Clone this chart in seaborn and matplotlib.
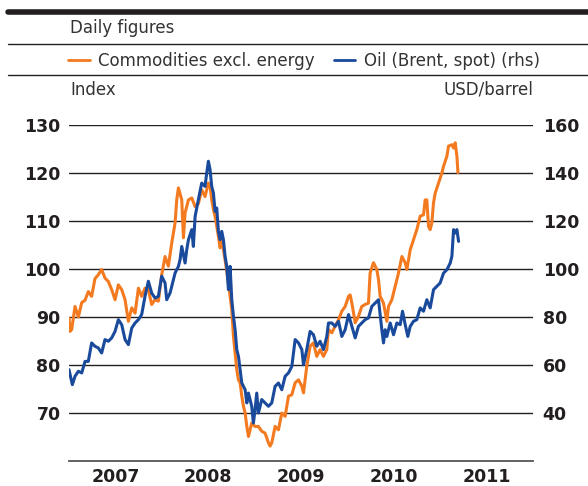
import pandas as pd
import matplotlib.pyplot as plt
import seaborn as sns
from matplotlib.lines import Line2D

# time as decimal years
comm_t = [2007.000, 2007.011, 2007.029, 2007.065, 2007.101, 2007.137, 2007.173, 2007.208,
          2007.244, 2007.280, 2007.316, 2007.352, 2007.388, 2007.424, 2007.460, 2007.496,
          2007.532, 2007.568, 2007.604, 2007.640, 2007.676, 2007.712, 2007.748, 2007.783,
          2007.819, 2007.855, 2007.891, 2007.927, 2007.963, 2007.999, 2008.035, 2008.071,
          2008.107, 2008.143, 2008.161, 2008.179, 2008.215, 2008.233, 2008.251, 2008.287,
          2008.323, 2008.359, 2008.394, 2008.430, 2008.466, 2008.502, 2008.520, 2008.538,
          2008.556, 2008.574, 2008.592, 2008.610, 2008.628, 2008.646, 2008.682, 2008.718,
          2008.754, 2008.772, 2008.790, 2008.808, 2008.826, 2008.844, 2008.862, 2008.880,
          2008.898, 2008.916, 2008.934, 2008.951, 2008.969, 2009.005, 2009.041, 2009.077,
          2009.113, 2009.149, 2009.167, 2009.185, 2009.221, 2009.257, 2009.293, 2009.329,
          2009.365, 2009.401, 2009.437, 2009.473, 2009.509, 2009.527, 2009.562, 2009.598,
          2009.634, 2009.670, 2009.706, 2009.742, 2009.778, 2009.796, 2009.832, 2009.868,
          2009.904, 2009.940, 2009.976, 2010.012, 2010.030, 2010.048, 2010.084, 2010.119,
          2010.155, 2010.191, 2010.227, 2010.245, 2010.281, 2010.317, 2010.335, 2010.353,
          2010.389, 2010.425, 2010.443, 2010.479, 2010.515, 2010.551, 2010.587, 2010.623,
          2010.641, 2010.677, 2010.712, 2010.748, 2010.784, 2010.820, 2010.838, 2010.856,
          2010.874, 2010.892, 2010.910, 2010.928, 2010.946, 2010.982, 2011.018, 2011.036,
          2011.072, 2011.090, 2011.126, 2011.144, 2011.162, 2011.180, 2011.191]
comm_val = [89.8, 87.0, 87.4, 92.2, 90.0, 93.0, 93.5, 95.3,
            94.3, 98.0, 98.8, 99.9, 98.1, 97.4, 95.7, 93.6,
            96.7, 95.7, 93.6, 89.1, 91.9, 90.8, 96.0, 94.3,
            96.0, 95.7, 92.6, 93.6, 93.3, 98.8, 102.6, 100.6,
            105.4, 109.6, 114.4, 116.9, 114.4, 106.5, 111.7, 114.4,
            114.8, 113.0, 113.6, 116.5, 115.1, 117.9, 117.2, 114.4,
            112.4, 111.0, 108.9, 106.8, 104.4, 106.1, 101.9, 97.1,
            91.5, 86.0, 82.5, 79.0, 76.9, 76.3, 73.5, 71.4,
            70.0, 67.2, 65.1, 66.5, 67.9, 67.2, 67.2, 66.2,
            65.8, 63.8, 63.1, 63.8, 67.2, 66.5, 70.0, 69.3,
            73.5, 73.8, 76.3, 76.9, 75.6, 74.2, 79.7, 83.9,
            84.6, 81.8, 83.2, 81.8, 83.2, 87.4, 86.7, 88.1,
            89.4, 91.2, 92.2, 94.3, 94.6, 92.9, 88.8, 90.1,
            92.2, 92.6, 92.9, 99.2, 101.3, 99.9, 97.8, 94.3,
            92.9, 89.1, 92.2, 93.6, 96.4, 99.2, 102.6, 101.3,
            99.9, 104.0, 106.1, 108.2, 111.0, 111.3, 114.4, 114.4,
            108.9, 108.2, 109.6, 113.8, 115.8, 117.9, 120.0, 121.4,
            123.5, 125.6, 125.9, 125.2, 126.3, 123.5, 120.1]

oil_t = [2007.000, 2007.036, 2007.065, 2007.101, 2007.137, 2007.173, 2007.208, 2007.244,
         2007.280, 2007.316, 2007.352, 2007.388, 2007.424, 2007.460, 2007.496, 2007.532,
         2007.568, 2007.604, 2007.640, 2007.676, 2007.712, 2007.748, 2007.783, 2007.819,
         2007.855, 2007.891, 2007.927, 2007.963, 2007.999, 2008.035, 2008.053, 2008.089,
         2008.107, 2008.143, 2008.179, 2008.197, 2008.215, 2008.251, 2008.269, 2008.287,
         2008.323, 2008.340, 2008.359, 2008.394, 2008.430, 2008.466, 2008.484, 2008.502,
         2008.520, 2008.538, 2008.556, 2008.574, 2008.592, 2008.610, 2008.628, 2008.646,
         2008.664, 2008.682, 2008.700, 2008.718, 2008.736, 2008.754, 2008.772, 2008.790,
         2008.808, 2008.826, 2008.844, 2008.862, 2008.880, 2008.898, 2008.916, 2008.934,
         2008.969, 2008.987, 2009.005, 2009.023, 2009.041, 2009.077, 2009.113, 2009.149,
         2009.185, 2009.221, 2009.257, 2009.293, 2009.329, 2009.365, 2009.401, 2009.437,
         2009.473, 2009.509, 2009.527, 2009.562, 2009.598, 2009.634, 2009.670, 2009.706,
         2009.742, 2009.778, 2009.796, 2009.832, 2009.868, 2009.904, 2009.940, 2009.976,
         2010.012, 2010.048, 2010.084, 2010.119, 2010.155, 2010.191, 2010.227, 2010.263,
         2010.299, 2010.335, 2010.371, 2010.389, 2010.407, 2010.425, 2010.461, 2010.497,
         2010.533, 2010.569, 2010.594, 2010.623, 2010.651, 2010.677, 2010.712, 2010.748,
         2010.784, 2010.820, 2010.856, 2010.892, 2010.928, 2010.964, 2011.000, 2011.036,
         2011.072, 2011.108, 2011.126, 2011.144, 2011.162, 2011.180, 2011.198]
oil_val = [58.1, 51.8, 55.3, 57.4, 56.7, 61.5, 61.5, 69.2,
           67.8, 67.1, 65.0, 70.6, 69.9, 71.3, 74.0, 78.9,
           76.8, 70.6, 68.5, 75.4, 77.5, 78.9, 81.0, 88.6,
           94.9, 90.0, 87.9, 88.6, 97.0, 94.2, 87.2, 90.0,
           92.8, 98.3, 101.1, 103.9, 109.4, 102.5, 108.1, 112.2,
           116.4, 109.4, 121.9, 128.9, 135.8, 134.4, 140.0, 144.9,
           141.4, 134.4, 131.7, 124.0, 125.4, 115.7, 112.2, 115.7,
           112.2, 105.3, 101.1, 91.4, 101.1, 87.2, 80.3, 74.7,
           66.4, 63.6, 58.1, 52.5, 51.1, 49.7, 44.2, 48.3,
           42.8, 35.8, 41.4, 48.3, 40.0, 45.6, 44.2, 42.8,
           44.2, 51.1, 52.5, 49.7, 55.3, 56.7, 59.4, 70.6,
           69.2, 66.4, 60.1, 66.4, 74.0, 72.6, 67.8, 69.9,
           66.4, 71.9, 77.5, 77.5, 76.1, 78.2, 71.9, 74.7,
           81.0, 76.1, 71.3, 76.1, 77.5, 78.9, 79.6, 84.4,
           85.8, 87.2, 74.7, 69.2, 74.7, 71.9, 77.5, 72.6,
           77.5, 76.8, 82.4, 76.8, 71.9, 76.1, 78.2, 78.9,
           83.8, 82.4, 87.2, 83.8, 91.4, 92.8, 94.2, 98.3,
           99.7, 102.5, 105.3, 116.4, 115.0, 116.4, 111.5]

years = [2007, 2008, 2009, 2010, 2011]
left_ticks = [70, 80, 90, 100, 110, 120, 130]
right_ticks = [40, 60, 80, 100, 120, 140, 160]

ORANGE = "#f47a20"
BLUE = "#1a4a9c"
DARK = "#231f20"

comm = pd.DataFrame({"t": comm_t, "val": comm_val})
oil = pd.DataFrame({"t": oil_t, "val": oil_val})

sns.set_style("white")
plt.rcParams["font.family"] = ["DejaVu Sans"]

W, H = 588, 486
fig = plt.figure(figsize=(W / 100, H / 100), dpi=100)
ax = fig.add_axes([69 / W, 1 - 461 / H, (533 - 69) / W, (461 - 125) / H])
ax2 = ax.twinx()

sns.lineplot(data=comm, x="t", y="val", ax=ax, color=ORANGE, lw=2.2, legend=False)
sns.lineplot(data=oil, x="t", y="val", ax=ax2, color=BLUE, lw=2.2, legend=False)

ax.set_xlim(2007, 2012)
ax.set_ylim(60, 130)
ax2.set_ylim(20, 160)
ax.set_yticks(left_ticks)
ax2.set_yticks(right_ticks)
for a in (ax, ax2):
    a.set_xlabel("")
    a.set_ylabel("")
    for s in a.spines.values():
        s.set_visible(False)
    a.tick_params(axis="y", length=0, labelsize=12.5, labelcolor=DARK)
    for lab in a.get_yticklabels():
        lab.set_fontweight("bold")
ax.tick_params(axis="y", pad=6)
ax2.tick_params(axis="y", pad=7)

ax.set_axisbelow(True)
ax.yaxis.grid(True, color=DARK, lw=1.0)
ax.spines["bottom"].set_visible(True)
ax.spines["bottom"].set_color("#555555")
ax.spines["bottom"].set_linewidth(1.3)

# year boundaries as inward ticks, year names centred between them
ax.set_xticks(list(range(2007, 2013)))
ax.set_xticklabels([])
ax.tick_params(axis="x", which="major", direction="in", length=6, width=1.1, color="#555555")
ax.set_xticks([y + 0.5 for y in years], minor=True)
ax.set_xticklabels([str(y) for y in years], minor=True, fontweight="bold", fontsize=12.5, color=DARK)
ax.tick_params(axis="x", which="minor", length=0, pad=5)

# header block
def hline(y, lw):
    fig.add_artist(Line2D([8 / W, 1], [1 - y / H, 1 - y / H], color=DARK, lw=lw))

hline(12.5, 4.0)
hline(44, 1.0)
hline(75, 1.0)
fig.text(70 / W, 1 - 28 / H, "Daily figures", fontsize=12, color="#333333", va="center")
handles = [Line2D([], [], color=ORANGE, lw=2.0), Line2D([], [], color=BLUE, lw=2.0)]
fig.legend(handles, ["Commodities excl. energy", "Oil (Brent, spot) (rhs)"],
           loc="center left", bbox_to_anchor=(68 / W, 1 - 61 / H), ncol=2, frameon=False,
           fontsize=12, handlelength=1.3, handletextpad=0.5, columnspacing=1.15,
           borderpad=0, borderaxespad=0, labelcolor="#333333")
fig.text(70 / W, 1 - 90 / H, "Index", fontsize=12, color="#333333", va="center")
fig.text(533 / W, 1 - 90 / H, "USD/barrel", fontsize=12, color="#333333", va="center", ha="right")

fig.savefig("out.png", dpi=100)
